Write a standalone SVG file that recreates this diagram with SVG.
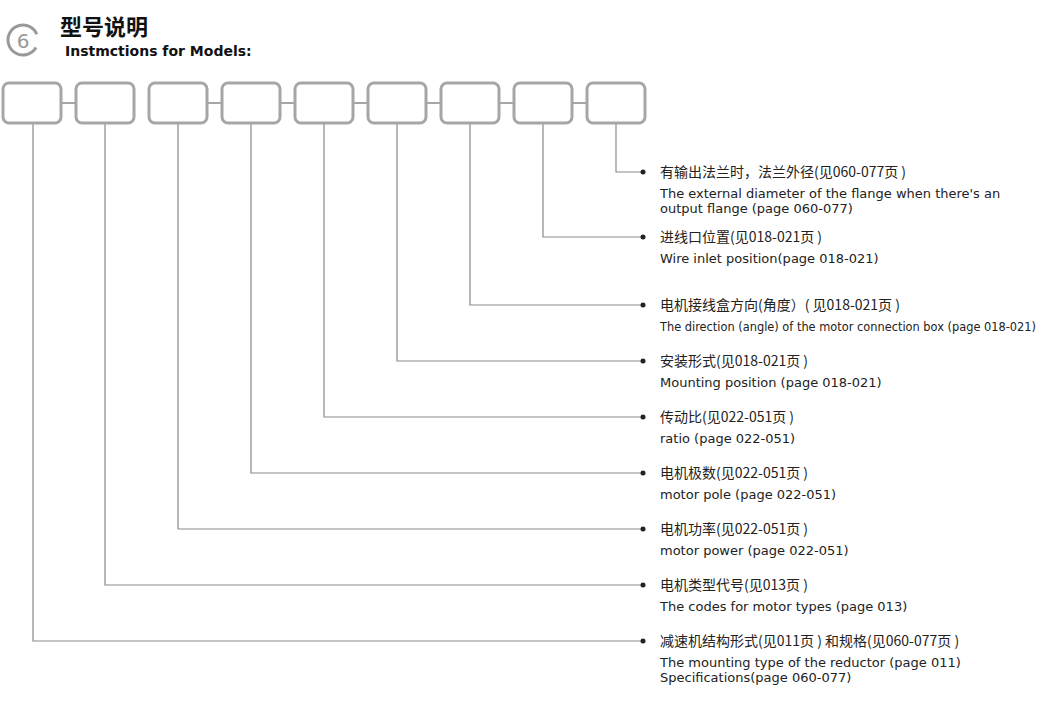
<svg xmlns="http://www.w3.org/2000/svg" width="1050" height="705" viewBox="0 0 1050 705">
<style>
.b{fill:#fff;stroke:#a6a6a6;stroke-width:3}
.c{fill:none;stroke:#8a8a8a;stroke-width:1.2}
.k{fill:none;stroke:#a6a6a6;stroke-width:2}
.t{font-family:"Noto Sans CJK SC","DejaVu Sans",sans-serif;font-size:14px;fill:#222}
.e{font-family:"DejaVu Sans","Noto Sans",sans-serif;font-size:13px;fill:#222}
.d{fill:#222}
</style>
<rect width="1050" height="705" fill="#fff"/>
<g id="header">
<circle cx="23" cy="40" r="15" fill="none" stroke="#999" stroke-width="3" stroke-dasharray="80 14" transform="rotate(30 23 40)"/>
<text x="23" y="47.5" text-anchor="middle" font-family="DejaVu Sans,sans-serif" font-size="20" fill="#999">6</text>
<text x="60" y="35" font-family="Noto Sans CJK SC,sans-serif" font-size="22" font-weight="bold" fill="#111">型号说明</text>
<text x="65" y="56" font-family="DejaVu Sans,sans-serif" font-size="14" font-weight="bold" fill="#111">Instmctions for Models:</text>
</g>
<g id="connectors">
<path class="k" d="M61 103H75M207 103H221M280 103H294M353 103H367M426 103H440M499 103H513M572 103H586"/>
<path class="c" d="M616 123V172H643M543 123V237H643M470 123V305H643M397 123V361H643M324 123V417H643M251 123V473H643M178 123V529H643M105 123V585H643M33 123V641H643"/>
<g class="d"><circle cx="643" cy="172" r="2.5"/><circle cx="643" cy="237" r="2.5"/><circle cx="643" cy="305" r="2.5"/><circle cx="643" cy="361" r="2.5"/><circle cx="643" cy="417" r="2.5"/><circle cx="643" cy="473" r="2.5"/><circle cx="643" cy="529" r="2.5"/><circle cx="643" cy="585" r="2.5"/><circle cx="643" cy="641" r="2.5"/></g>
</g>
<g id="box1"><rect class="b" x="3" y="83" width="58" height="40" rx="6"/></g>
<g id="box2"><rect class="b" x="76" y="83" width="58" height="40" rx="6"/></g>
<g id="box3"><rect class="b" x="149" y="83" width="58" height="40" rx="6"/></g>
<g id="box4"><rect class="b" x="222" y="83" width="58" height="40" rx="6"/></g>
<g id="box5"><rect class="b" x="295" y="83" width="58" height="40" rx="6"/></g>
<g id="box6"><rect class="b" x="368" y="83" width="58" height="40" rx="6"/></g>
<g id="box7"><rect class="b" x="441" y="83" width="58" height="40" rx="6"/></g>
<g id="box8"><rect class="b" x="514" y="83" width="58" height="40" rx="6"/></g>
<g id="box9"><rect class="b" x="587" y="83" width="58" height="40" rx="6"/></g>
<g id="labels">
<text class="t" x="660" y="177">有输出法兰时，法兰外径(见060-077页 )</text>
<text class="e" x="660" y="198">The external diameter of the flange when there's an</text>
<text class="e" x="660" y="213">output flange (page 060-077)</text>
<text class="t" x="660" y="242">进线口位置(见018-021页 )</text>
<text class="e" x="660" y="263">Wire inlet position(page 018-021)</text>
<text class="t" x="660" y="310">电机接线盒方向(角度）( 见018-021页 )</text>
<text class="e" x="660" y="331" textLength="376" lengthAdjust="spacingAndGlyphs">The direction (angle) of the motor connection box (page 018-021)</text>
<text class="t" x="660" y="366">安装形式(见018-021页 )</text>
<text class="e" x="660" y="387">Mounting position (page 018-021)</text>
<text class="t" x="660" y="422">传动比(见022-051页 )</text>
<text class="e" x="660" y="443">ratio (page 022-051)</text>
<text class="t" x="660" y="478">电机极数(见022-051页 )</text>
<text class="e" x="660" y="499">motor pole (page 022-051)</text>
<text class="t" x="660" y="534">电机功率(见022-051页 )</text>
<text class="e" x="660" y="555">motor power (page 022-051)</text>
<text class="t" x="660" y="590">电机类型代号(见013页 )</text>
<text class="e" x="660" y="611">The codes for motor types (page 013)</text>
<text class="t" x="660" y="646">减速机结构形式(见011页 ) 和规格(见060-077页 )</text>
<text class="e" x="660" y="667">The mounting type of the reductor (page 011)</text>
<text class="e" x="660" y="682">Specifications(page 060-077)</text>
</g>
</svg>
